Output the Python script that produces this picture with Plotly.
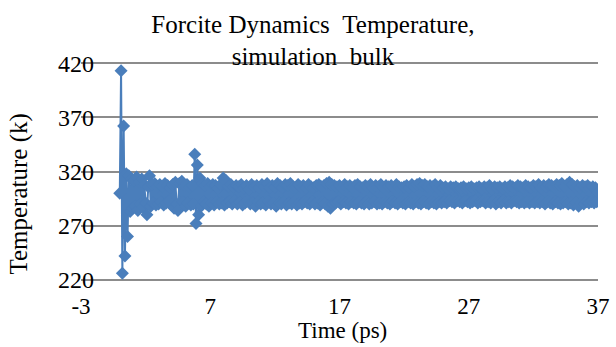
import plotly.graph_objects as go

# Temperature (K) sampled every 0.1 ps, one row per picosecond
temp_rows = [
    [300, 413, 226, 362, 242, 318, 260, 316, 283, 313],
    [286, 311, 288, 315, 284, 310, 290, 313, 287, 308],
    [291, 280, 306, 316, 288, 308, 291, 309, 289, 306],
    [290, 308, 292, 306, 289, 309, 291, 307, 293, 305],
    [289, 308, 286, 310, 290, 284, 309, 291, 311, 292],
    [307, 288, 308, 291, 305, 289, 307, 290, 336, 272],
    [326, 280, 314, 288, 309, 292, 307, 290, 309, 288],
    [306, 291, 308, 289, 307, 292, 305, 290, 308, 291],
    [314, 289, 312, 291, 306, 292, 308, 290, 305, 293],
    [307, 290, 306, 292, 308, 289, 305, 291, 307, 293],
    [304, 290, 308, 291, 306, 288, 307, 292, 305, 290],
    [308, 291, 306, 289, 309, 292, 305, 290, 307, 291],
    [306, 288, 309, 291, 307, 290, 305, 292, 308, 289],
    [307, 291, 309, 290, 306, 292, 305, 289, 308, 291],
    [306, 290, 307, 292, 305, 291, 308, 290, 306, 292],
    [305, 290, 307, 291, 308, 289, 306, 292, 307, 290],
    [309, 288, 310, 286, 308, 290, 307, 291, 306, 292],
    [307, 290, 305, 292, 308, 291, 306, 290, 307, 292],
    [305, 291, 307, 290, 308, 292, 306, 291, 305, 290],
    [307, 292, 306, 290, 308, 291, 305, 292, 307, 290],
    [306, 291, 308, 290, 305, 292, 307, 291, 306, 290],
    [307, 292, 305, 291, 308, 290, 306, 292, 305, 291],
    [306, 290, 307, 292, 305, 291, 308, 290, 306, 292],
    [308, 291, 309, 290, 307, 292, 308, 291, 306, 290],
    [307, 292, 306, 291, 308, 290, 305, 292, 307, 291],
    [305, 292, 306, 291, 304, 293, 306, 292, 305, 291],
    [306, 293, 304, 292, 305, 291, 306, 293, 304, 292],
    [305, 291, 306, 292, 304, 293, 305, 291, 306, 292],
    [304, 293, 306, 291, 305, 292, 307, 291, 304, 293],
    [306, 290, 305, 292, 306, 291, 304, 293, 306, 291],
    [305, 292, 307, 291, 306, 293, 305, 292, 307, 291],
    [306, 292, 305, 291, 307, 292, 306, 291, 305, 292],
    [307, 291, 306, 292, 308, 291, 305, 292, 307, 290],
    [306, 292, 308, 291, 307, 290, 306, 292, 308, 291],
    [307, 290, 309, 291, 306, 292, 308, 290, 310, 291],
    [308, 289, 306, 292, 307, 288, 305, 291, 307, 290],
    [306, 292, 307, 291, 305, 292, 306, 291, 305, 292],
    [300],
]
time_step_ps = 0.1

x_ticks = [-3, 7, 17, 27, 37]
y_ticks = [220, 270, 320, 370, 420]

temperature = [v for row in temp_rows for v in row]
time_ps = [round(i * time_step_ps, 1) for i in range(len(temperature))]

blue = "#4a7ebb"
grid = "#8c8c8c"
serif = "Liberation Serif"

fig = go.Figure()
fig.add_trace(go.Scatter(
    x=time_ps, y=temperature, mode="lines+markers",
    line=dict(color=blue, width=2),
    marker=dict(symbol="diamond", size=10, color=blue),
    showlegend=False,
))

fig.update_layout(
    width=616, height=347,
    margin=dict(l=81, r=18, t=61, b=65),
    paper_bgcolor="white", plot_bgcolor="white",
    font=dict(family=serif, color="black", size=23),
    title=dict(
        text="Forcite Dynamics \u00a0Temperature,<br>simulation \u00a0bulk",
        x=0.508, xanchor="center", y=0.905, yanchor="middle",
        font=dict(size=25, family=serif, color="black"),
    ),
    xaxis=dict(
        range=[-3, 37], tickvals=x_ticks, ticktext=[str(v) for v in x_ticks],
        showgrid=False, zeroline=False, ticks="", showline=False,
        automargin=False,
        ticklabelstandoff=8,
        tickfont=dict(family=serif, size=23, color="black"),
    ),
    yaxis=dict(
        range=[218, 422], tickvals=y_ticks, ticktext=[str(v) for v in y_ticks],
        showgrid=True, gridcolor=grid, gridwidth=2,
        zeroline=False, showline=False, ticks="",
        automargin=False,
        ticklabelstandoff=-14,
        tickfont=dict(family=serif, size=24, color="black"),
    ),
    annotations=[
        dict(
            text="Temperature (k)", textangle=-90, xref="paper", yref="paper",
            x=-0.12, y=0.40, xanchor="center", yanchor="middle", showarrow=False,
            font=dict(size=25, family=serif, color="black"),
        ),
        dict(
            text="Time (ps)", xref="paper", yref="paper",
            x=0.505, y=-0.22, xanchor="center", yanchor="middle", showarrow=False,
            font=dict(size=23, family=serif, color="black"),
        ),
    ],
)

fig.write_html("out.html")
